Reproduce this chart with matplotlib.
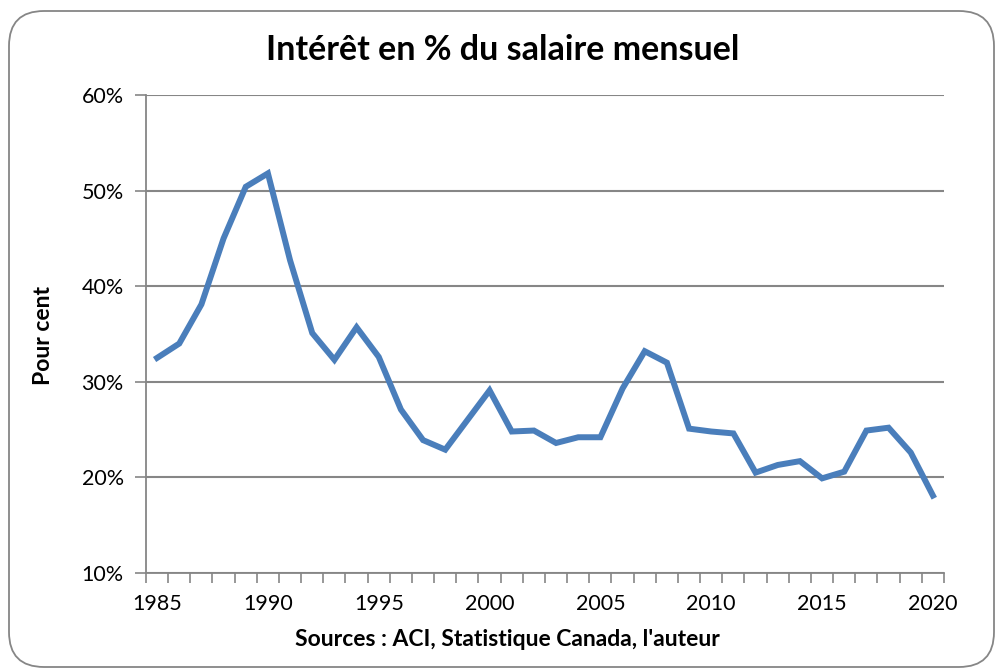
from matplotlib import pyplot as plt
from matplotlib.patches import FancyBboxPatch
from matplotlib.ticker import FuncFormatter
import numpy as np

# Data
years = np.arange(1985, 2021)
interet = [32.5, 34.0, 38.1, 45.0, 50.4, 51.8, 42.7, 35.1, 32.3, 35.7,
           32.6, 27.1, 23.9, 22.9, 26.0, 29.1, 24.8, 24.9, 23.6, 24.2,
           24.2, 29.3, 33.2, 32.0, 25.1, 24.8, 24.6, 20.5, 21.3, 21.7,
           19.9, 20.6, 24.9, 25.2, 22.6, 18.1]
year_labels = [1985, 1990, 1995, 2000, 2005, 2010, 2015, 2020]
pct_ticks = [10, 20, 30, 40, 50, 60]

plt.rcParams['font.family'] = ['Lato', 'DejaVu Sans']
grey = '#868686'

fig = plt.figure(figsize=(9.99, 6.71), dpi=100)
ax = fig.add_axes([146 / 999, 1 - 573 / 671, (944 - 146) / 999, (573 - 95) / 671])

# rounded frame around the chart
frame = FancyBboxPatch((9 / 999, 4 / 671), 985 / 999, 656 / 671,
                       boxstyle='round,pad=0,rounding_size=0.035',
                       transform=fig.transFigure, fill=False,
                       edgecolor=grey, linewidth=1.3, mutation_aspect=999 / 671)
fig.patches.append(frame)

ax.plot(years, interet, color='#4A7EBB', linewidth=4.3, solid_joinstyle='miter')

ax.set_xlim(1984.5, 2020.5)
ax.set_ylim(10, 60)
ax.set_yticks(pct_ticks)
ax.yaxis.set_major_formatter(FuncFormatter(lambda v, p: f'{v:.0f}%'))
ax.set_xticks(year_labels)
ax.set_xticks(np.arange(1984.5, 2021, 1), minor=True)
ax.tick_params(axis='x', which='major', length=0, pad=15, labelsize=15.5)
ax.tick_params(axis='x', which='minor', length=7, width=1.2, color=grey)
ax.tick_params(axis='y', length=8, width=1.2, color=grey, pad=8, labelsize=15.5)

ax.grid(axis='y', color=grey, linewidth=1.5)
ax.set_axisbelow(True)
for s in ['top', 'right']:
    ax.spines[s].set_visible(False)
for s in ['left', 'bottom']:
    ax.spines[s].set_color(grey)
    ax.spines[s].set_linewidth(1.3)

fig.text(503 / 999, 1 - 50 / 671, 'Intérêt en % du salaire mensuel',
         ha='center', va='center', fontsize=24.5, fontweight='bold')
fig.text(507 / 999, 1 - 640 / 671, "Sources : ACI, Statistique Canada, l'auteur",
         ha='center', va='center', fontsize=16.5, fontweight='bold')
fig.text(43 / 999, 1 - 335 / 671, 'Pour cent', rotation=90,
         ha='center', va='center', fontsize=16.5, fontweight='bold')

fig.savefig('out.png')
